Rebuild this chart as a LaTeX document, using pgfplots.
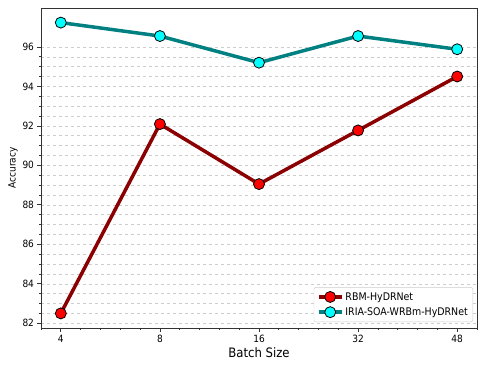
\documentclass[border=0pt]{standalone}
\usepackage{fontspec}
\setmainfont{DejaVu Sans Condensed}
\usepackage{pgfplots}
\pgfplotsset{compat=1.18}
\definecolor{redline}{RGB}{139,0,0}
\definecolor{tealline}{RGB}{0,128,128}
\definecolor{redfill}{RGB}{255,0,0}
\definecolor{cyanfill}{RGB}{0,255,255}
\definecolor{gridc}{RGB}{205,205,205}
\begin{document}
\begin{tikzpicture}
\useasboundingbox (-41pt,-45pt) rectangle (437pt,328pt);
\begin{axis}[
  at={(0,0)}, anchor=south west,
  scale only axis, width=436pt, height=320pt,
  xmin=-0.2, xmax=4.2, ymin=81.76, ymax=97.97,
  xtick={0,1,2,3,4}, xticklabels={4,8,16,32,48},
  minor xtick={-0.2,0.2,0.4,0.6,0.8,1.2,1.4,1.6,1.8,2.2,2.4,2.6,2.8,3.2,3.4,3.6,3.8,4.2},
  ytick={82,84,86,88,90,92,94,96},
  minor y tick num=3,
  xtick pos=bottom, ytick pos=left,
  tick align=outside,
  major tick length=3.5pt, minor tick length=2pt,
  every tick/.style={black!80, line width=0.7pt},
  ymajorgrids, yminorgrids,
  major grid style={dashed, gridc, line width=0.5pt},
  minor grid style={dashed, gridc, line width=0.5pt},
  axis line style={black!80, line width=0.8pt},
  /pgf/number format/assume math mode=true,
  tick label style={font=\fontsize{10}{12}\selectfont},
  xlabel={Batch Size}, ylabel={Accuracy},
  xlabel style={font=\fontsize{13}{15}\selectfont, yshift=2pt},
  ylabel style={font=\fontsize{10}{12}\selectfont, yshift=-2pt},
  legend style={at={(1,0)}, anchor=south east, xshift=-4pt, yshift=6pt,
    draw=gridc, rounded corners=2pt, font=\fontsize{10.5}{12}\selectfont,
    row sep=2pt, inner sep=3pt},
  legend cell align=left,
  legend image code/.code={\draw[#1, mark repeat=2, mark phase=2] plot coordinates {(0pt,0pt) (11.5pt,0pt) (23pt,0pt)};},
]
\addplot[redline, line width=3.5pt, mark=*, mark size=5.5pt,
  mark options={fill=redfill, draw=black, line width=0.8pt}]
  coordinates {(0,82.5) (1,92.09) (2,89.05) (3,91.77) (4,94.5)};
\addlegendentry{RBM-HyDRNet}
\addplot[tealline, line width=3.5pt, mark=*, mark size=5.5pt,
  mark options={fill=cyanfill, draw=black, line width=0.8pt}]
  coordinates {(0,97.23) (1,96.55) (2,95.2) (3,96.55) (4,95.88)};
\addlegendentry{IRIA-SOA-WRBm-HyDRNet}
\end{axis}
\end{tikzpicture}
\end{document}
